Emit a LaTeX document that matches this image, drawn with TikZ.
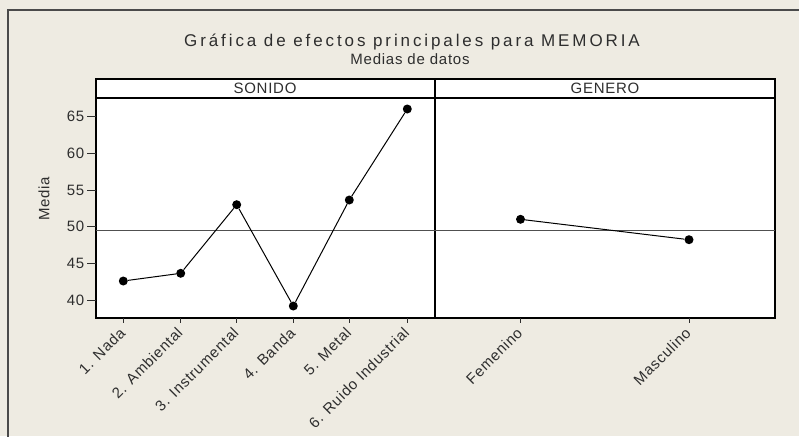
\documentclass[tikz,border=0pt]{standalone}
\usepackage{fontspec}
\setmainfont{Liberation Sans}[LetterSpace=5]
\newfontfamily\titlefont{Liberation Sans}[LetterSpace=17]
\definecolor{bg}{HTML}{EEEBE2}
\definecolor{txt}{HTML}{2E2E2E}
\definecolor{framec}{HTML}{4A4A4A}
\definecolor{refc}{HTML}{505050}
\begin{document}
\begin{tikzpicture}[x=1pt,y=-1pt,
  lbl/.style={text=txt, font=\fontsize{15}{17}\selectfont, inner sep=0pt},
  dot/.style={circle, fill=black, inner sep=0pt, minimum size=9pt},
  panel/.style={draw=black, line width=1.2pt, fill=white},
  tickm/.style={draw=txt, line width=0.9pt},
  conn/.style={line width=1pt, draw=black},
  xl/.style={lbl, rotate=45, anchor=base east}]
\useasboundingbox (0,0) rectangle (799,436);
\fill[bg] (0,0) rectangle (799,436);
\draw[framec, line width=1.8pt] (8,437) -- (8,10) -- (800,10);
% titles
\node[text=txt, font=\titlefont\fontsize{17}{19}\selectfont, anchor=base, inner sep=0pt] (title) at (412,46.5) {Gráfica de efectos principales para MEMORIA};
\node[lbl, anchor=base] (sub) at (410,64.5) {Medias de datos};
% panels
\draw[panel] (96,79) rectangle (435,98);
\draw[panel] (435,79) rectangle (775,98);
\draw[panel] (96,98) rectangle (435,318);
\draw[panel] (435,98) rectangle (775,318);
\node[lbl, anchor=base] (strip1) at (265,93.5) {SONIDO};
\node[lbl, anchor=base] (strip2) at (605,93.5) {GENERO};
% reference line
\draw[refc, line width=0.9pt] (96,230) -- (775,230);
% y axis
\foreach \v in {40,45,...,65} {
  \pgfmathsetmacro\yy{300-(\v-40)*7.33}
  \draw[tickm] (87,\yy) -- (96,\yy);
  \node[lbl, anchor=east] (y\v) at (84.5,\yy) {\v};
}
\node[lbl, rotate=90] (ylab) at (44,199) {Media};
% x axis
\foreach \x/\t [count=\i] in {123.3/1. Nada, 180.7/2. Ambiental, 236.7/3. Instrumental, 293.3/4. Banda, 349.3/5. Metal, 407.3/6. Ruido Industrial, 520.5/Femenino, 689/Masculino} {
  \draw[tickm] (\x,318) -- (\x,323);
  \node[xl] (x\i) at (\x+3,334) {\t};
}
% data
\node[dot] (p1) at (123.3,281) {};
\node[dot] (p2) at (180.7,273.3) {};
\node[dot] (p3) at (236.7,204.7) {};
\node[dot] (p4) at (293.3,306) {};
\node[dot] (p5) at (349.3,200) {};
\node[dot] (p6) at (407.3,109) {};
\node[dot] (g1) at (520.5,219.3) {};
\node[dot] (g2) at (689,239.7) {};
\draw[conn] (p1) -- (p2) -- (p3) -- (p4) -- (p5) -- (p6);
\draw[conn] (g1) -- (g2);
\end{tikzpicture}
\end{document}
